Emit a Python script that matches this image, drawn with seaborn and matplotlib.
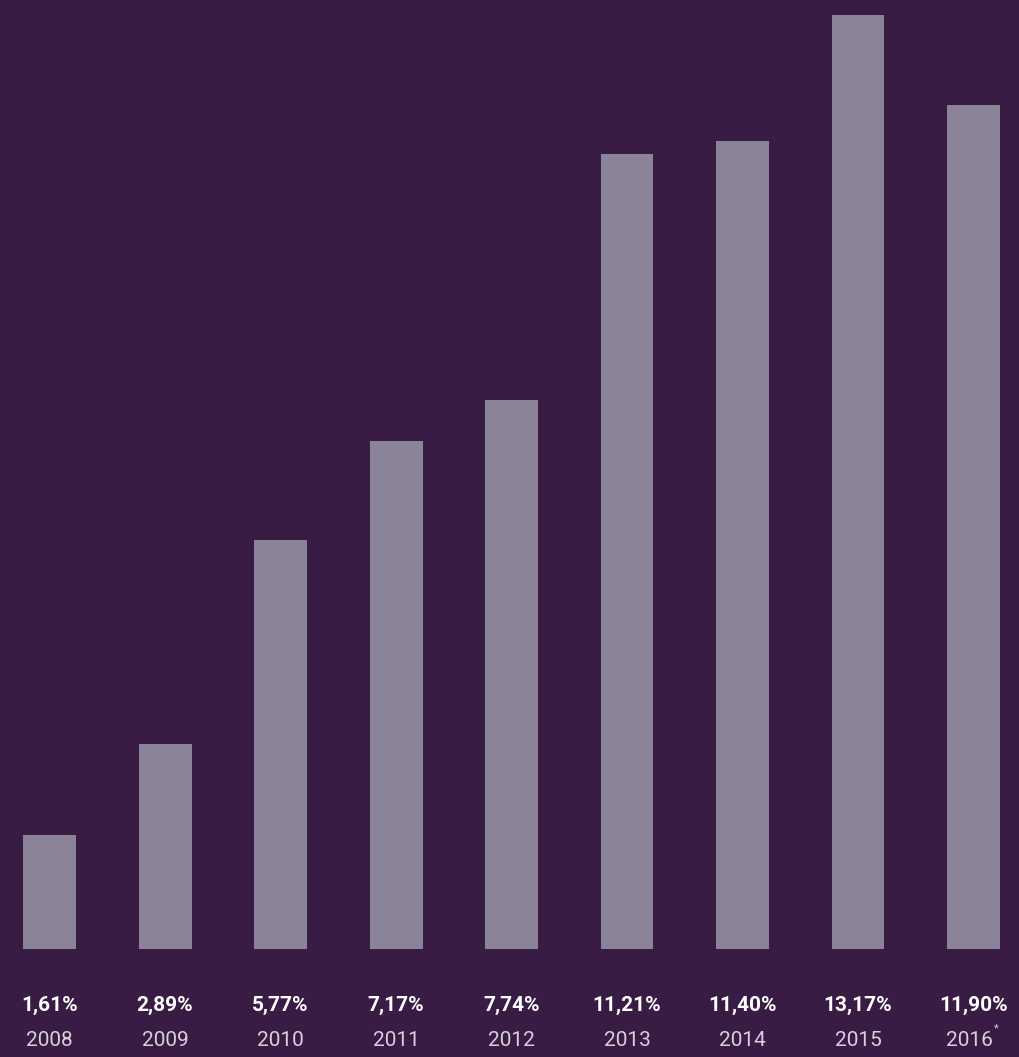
import matplotlib
matplotlib.use("Agg")
import matplotlib.pyplot as plt
import matplotlib.transforms as mtransforms
import seaborn as sns
import pandas as pd

years = ["2008", "2009", "2010", "2011", "2012", "2013", "2014", "2015", "2016"]
values = [1.61, 2.89, 5.77, 7.17, 7.74, 11.21, 11.40, 13.17, 11.90]
value_labels = ["1,61%", "2,89%", "5,77%", "7,17%", "7,74%", "11,21%", "11,40%", "13,17%", "11,90%"]

BG = "#381c44"
BAR = "#8b8398"
YEAR_C = "#d8d0dc"

sns.set_theme(style="white")
plt.rcParams["font.family"] = ["Roboto", "DejaVu Sans"]

W, H = 1019, 1057
fig = plt.figure(figsize=(W / 100, H / 100), dpi=100, facecolor=BG)
ax = fig.add_axes([0, 108 / H, 1, 949 / H])
ax.set_facecolor(BG)

df = pd.DataFrame({"year": years, "value": values})
sns.barplot(data=df, x="year", y="value", color=BAR, saturation=1,
            width=53 / 115.5, linewidth=0, edgecolor="none", ax=ax)

ax.set_xlim(-49.5 / 115.5, 8 + (W - 973.5) / 115.5)
ax.set_ylim(0, 13.17 * 949 / 934)
ax.axis("off")

trans = mtransforms.blended_transform_factory(ax.transData, fig.transFigure)
for i, (yr, lab) in enumerate(zip(years, value_labels)):
    ax.text(i, 1 - 1005 / H, lab, transform=trans, ha="center", va="center",
            color="white", fontsize=15, fontweight="bold")
    if yr == "2016":
        ax.annotate(yr, xy=(i, 1 - 1041 / H), xycoords=trans, xytext=(-3, 0),
                    textcoords="offset points", ha="center", va="center",
                    color=YEAR_C, fontsize=15)
        ax.annotate("*", xy=(i, 1 - 1041 / H), xycoords=trans, xytext=(16.5, 9),
                    textcoords="offset points", ha="center", va="center",
                    color=YEAR_C, fontsize=8)
    else:
        ax.text(i, 1 - 1041 / H, yr, transform=trans, ha="center", va="center",
                color=YEAR_C, fontsize=15)

fig.savefig("out.png", dpi=100, facecolor=BG)
